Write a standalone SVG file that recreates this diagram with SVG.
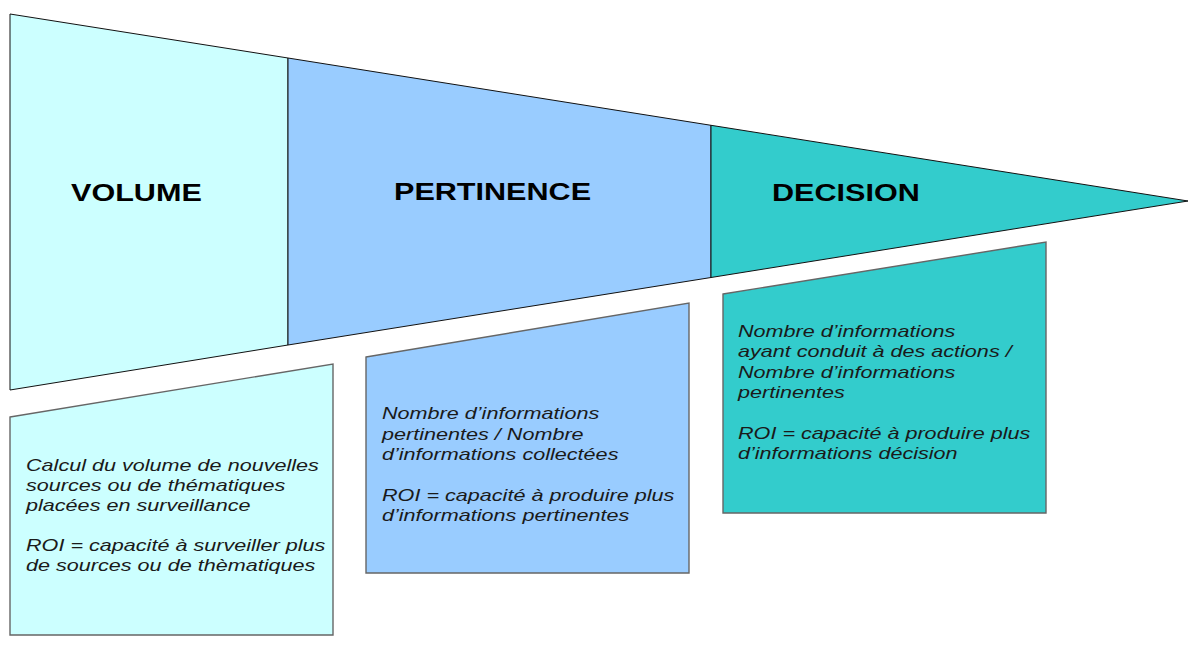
<svg xmlns="http://www.w3.org/2000/svg" width="1188" height="646" viewBox="0 0 1188 646">
<style>
.fun{stroke:#111;stroke-width:1}
.box{stroke:#666;stroke-width:1.4}
.v{fill:#ccffff}
.p{fill:#99ccff}
.d{fill:#33cccc}
.h{font-family:"Liberation Sans",Arial,sans-serif;font-weight:bold;font-size:23px;fill:#000}
.t{font-family:"Liberation Sans",Arial,sans-serif;font-style:italic;font-size:16px;fill:#1a1a1a}
</style>
<rect width="1188" height="646" fill="#fff"/>
<g id="funnel-volume">
<polygon class="fun v" points="10,14 288,58 288,345 10,390"/>
<text class="h" transform="translate(71,201) scale(1.33,1)">VOLUME</text>
</g>
<g id="funnel-pertinence">
<polygon class="fun p" points="288,58 711,125.3 711,277.5 288,345"/>
<text class="h" transform="translate(394,200) scale(1.33,1)">PERTINENCE</text>
</g>
<g id="funnel-decision">
<polygon class="fun d" points="711,125.3 1188,201 711,277.5"/>
<text class="h" transform="translate(772,201) scale(1.33,1)">DECISION</text>
</g>
<g id="box-volume">
<polygon class="box v" points="10,417 333,364 333,635 10,635"/>
<text class="t" transform="translate(26,471) scale(1.35,1)">Calcul du volume de nouvelles</text>
<text class="t" transform="translate(26,491) scale(1.35,1)">sources ou de thématiques</text>
<text class="t" transform="translate(26,511) scale(1.35,1)">placées en surveillance</text>
<text class="t" transform="translate(26,551) scale(1.35,1)">ROI = capacité à surveiller plus</text>
<text class="t" transform="translate(26,571) scale(1.35,1)">de sources ou de thèmatiques</text>
</g>
<g id="box-pertinence">
<polygon class="box p" points="366,357 689,303 689,573 366,573"/>
<text class="t" transform="translate(382,419) scale(1.35,1)">Nombre d’informations</text>
<text class="t" transform="translate(382,440) scale(1.35,1)">pertinentes / Nombre</text>
<text class="t" transform="translate(382,460) scale(1.35,1)">d’informations collectées</text>
<text class="t" transform="translate(382,501) scale(1.35,1)">ROI = capacité à produire plus</text>
<text class="t" transform="translate(382,521) scale(1.35,1)">d’informations pertinentes</text>
</g>
<g id="box-decision">
<polygon class="box d" points="723,294 1046,242 1046,513 723,513"/>
<text class="t" transform="translate(738,337) scale(1.35,1)">Nombre d’informations</text>
<text class="t" transform="translate(738,357) scale(1.35,1)">ayant conduit à des actions /</text>
<text class="t" transform="translate(738,378) scale(1.35,1)">Nombre d’informations</text>
<text class="t" transform="translate(738,398) scale(1.35,1)">pertinentes</text>
<text class="t" transform="translate(738,439) scale(1.35,1)">ROI = capacité à produire plus</text>
<text class="t" transform="translate(738,459) scale(1.35,1)">d’informations décision</text>
</g>
<g id="connectors"/>
</svg>
